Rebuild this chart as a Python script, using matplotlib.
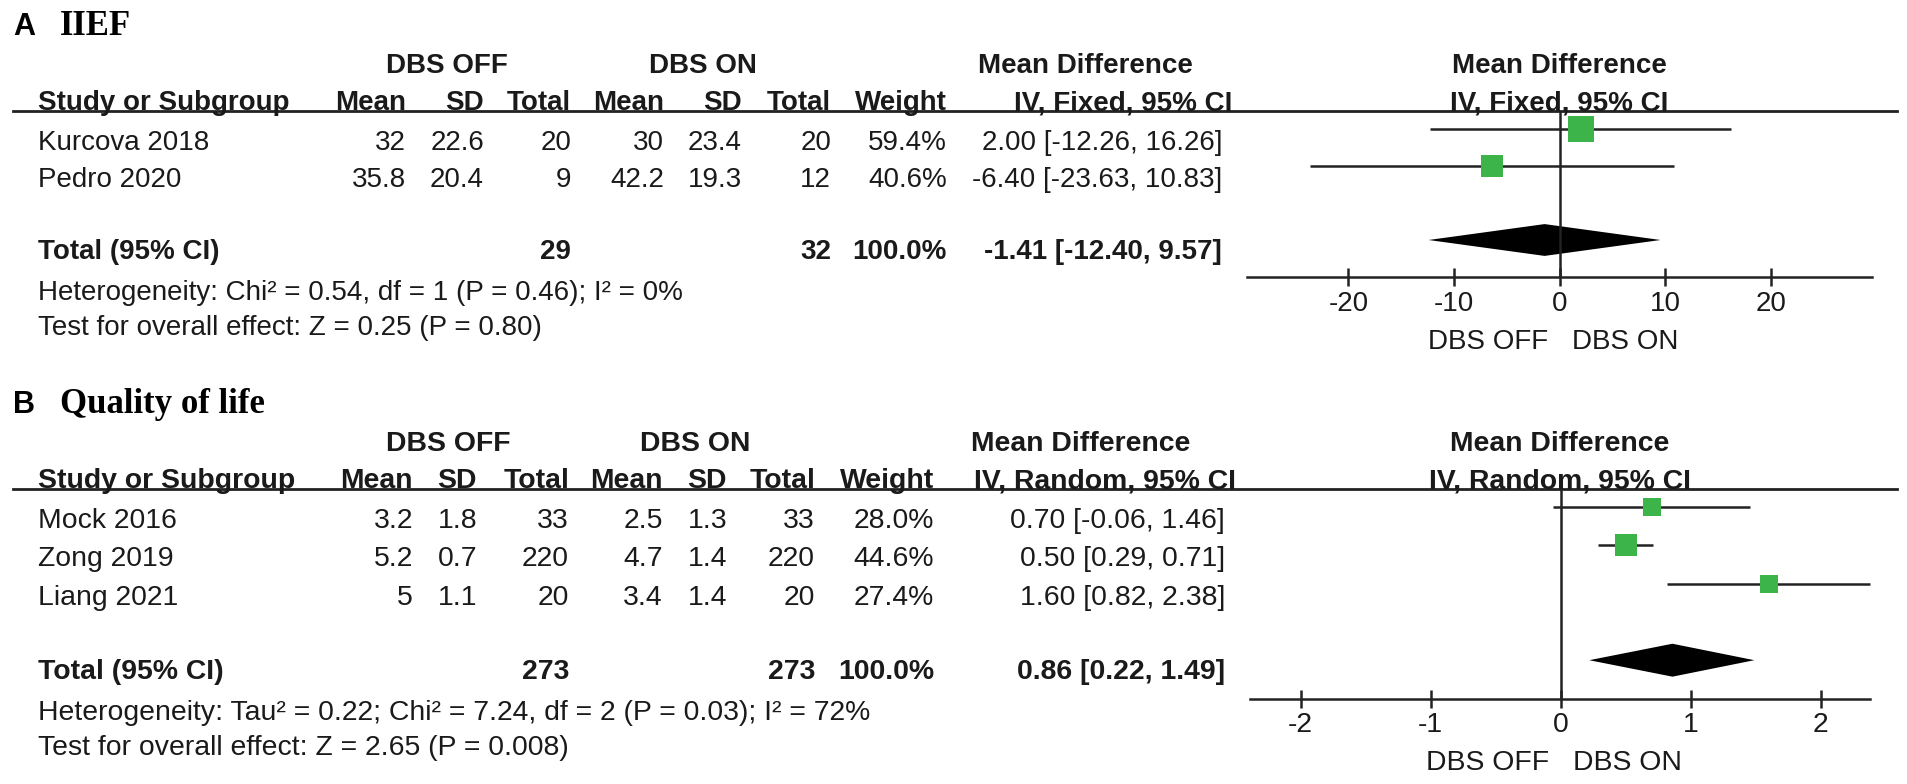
import numpy as np
import matplotlib.pyplot as plt
from matplotlib.patches import Polygon

plt.rcParams['font.family'] = ['Liberation Sans', 'DejaVu Sans']

W, H = 1907, 784
TXT = '#1a1a1a'
GREEN = '#3cb44a'

# ---- panel A: IIEF ----
a_study = ["Kurcova 2018", "Pedro 2020"]
a_off_mean = [32, 35.8]
a_off_sd = [22.6, 20.4]
a_off_n = [20, 9]
a_on_mean = [30, 42.2]
a_on_sd = [23.4, 19.3]
a_on_n = [20, 12]
a_weight = [59.4, 40.6]
a_md = [2.00, -6.40]
a_lo = [-12.26, -23.63]
a_hi = [16.26, 10.83]
a_total = (29, 32, 100.0, -1.41, -12.40, 9.57)
a_het = "Heterogeneity: Chi² = 0.54, df = 1 (P = 0.46); I² = 0%"
a_test = "Test for overall effect: Z = 0.25 (P = 0.80)"
a_ticks = [-20, -10, 0, 10, 20]

# ---- panel B: Quality of life ----
b_study = ["Mock 2016", "Zong 2019", "Liang 2021"]
b_off_mean = [3.2, 5.2, 5]
b_off_sd = [1.8, 0.7, 1.1]
b_off_n = [33, 220, 20]
b_on_mean = [2.5, 4.7, 3.4]
b_on_sd = [1.3, 1.4, 1.4]
b_on_n = [33, 220, 20]
b_weight = [28.0, 44.6, 27.4]
b_md = [0.70, 0.50, 1.60]
b_lo = [-0.06, 0.29, 0.82]
b_hi = [1.46, 0.71, 2.38]
b_total = (273, 273, 100.0, 0.86, 0.22, 1.49)
b_het = "Heterogeneity: Tau² = 0.22; Chi² = 7.24, df = 2 (P = 0.03); I² = 72%"
b_test = "Test for overall effect: Z = 2.65 (P = 0.008)"
b_ticks = [-2, -1, 0, 1, 2]

fig = plt.figure(figsize=(W / 100, H / 100), dpi=100)
tab = fig.add_axes([0, 0, 1, 1])
tab.set_xlim(0, W)
tab.set_ylim(H, 0)
tab.axis('off')


def t(x, y, s, ha='left', bold=False, size=20, **kw):
    tab.text(x, y, s, ha=ha, va='baseline', fontsize=size, color=kw.pop('color', TXT),
             fontweight='bold' if bold else 'normal', **kw)


def panel(top, letter, title, cols, grp, md_hdr, method, study, rows, weight, md, lo, hi,
          total, het, test, fx, xlim, ticks, rowgap, fs):
    # top = y of header rule
    t(13, top - 76, letter, bold=True, size=22, color='black')
    t(60, top - 76, title, bold=True, size=25, color='black', family='Liberation Serif')
    t(grp[0], top - 38, "DBS OFF", ha='center', bold=True, size=fs)
    t(grp[1], top - 38, "DBS ON", ha='center', bold=True, size=fs)
    t(md_hdr[0], top - 38, "Mean Difference", ha='center', bold=True, size=fs)
    t(fx[2], top - 38, "Mean Difference", ha='center', bold=True, size=fs)
    hy = top - 1
    t(38, hy, "Study or Subgroup", bold=True, size=fs)
    for x, s in zip(cols[:6], ["Mean", "SD", "Total", "Mean", "SD", "Total"]):
        t(x, hy, s, ha='right', bold=True, size=fs)
    t(cols[6], hy, "Weight", ha='right', bold=True, size=fs)
    t(md_hdr[1], hy, method, ha='center', bold=True, size=fs)
    t(fx[2], hy, method, ha='center', bold=True, size=fs)
    tab.plot([13, 1897], [top, top], color='#222222', lw=2.0)

    y0 = top + 39
    for i in range(len(study)):
        y = y0 + i * rowgap
        t(38, y, study[i], size=fs)
        for x, col in zip(cols[:6], rows):
            t(x, y, f"{col[i]:g}", ha='right', size=fs)
        t(cols[6], y, f"{weight[i]:.1f}%", ha='right', size=fs)
        t(cols[7], y, f"{md[i]:.2f} [{lo[i]:.2f}, {hi[i]:.2f}]", ha='right', size=fs)
    n = len(study) + 1
    yt = y0 + n * rowgap - 2
    t(38, yt, "Total (95% CI)", bold=True, size=fs)
    t(cols[2], yt, f"{total[0]}", ha='right', bold=True, size=fs)
    t(cols[5], yt, f"{total[1]}", ha='right', bold=True, size=fs)
    t(cols[6], yt, f"{total[2]:.1f}%", ha='right', bold=True, size=fs)
    t(cols[7], yt, f"{total[3]:.2f} [{total[4]:.2f}, {total[5]:.2f}]", ha='right', bold=True, size=fs)
    t(38, yt + 41, het, size=fs)
    t(38, yt + 76, test, size=fs)

    # forest plot
    y_axis = top + 18 + (n + 1) * rowgap
    ax = fig.add_axes([fx[0] / W, 1 - y_axis / H, (fx[1] - fx[0]) / W, (y_axis - top) / H])
    ax.set_facecolor('none')
    ax.set_xlim(xlim)
    ax.set_ylim(n + 1, -18 / rowgap)
    ax.axvline(0, color='#222222', lw=1.8)
    ypos = np.arange(len(study))
    ax.hlines(ypos, lo, hi, color='#222222', lw=1.8, clip_on=False)
    for i in range(len(study)):
        ax.plot(md[i], ypos[i], 's', color=GREEN, ms=0.72 * 3.3 * np.sqrt(weight[i]),
                mew=0, clip_on=False)
    h = 0.43
    ax.add_patch(Polygon([(total[4], n), (total[3], n - h), (total[5], n), (total[3], n + h)],
                         closed=True, color='black', lw=0))
    for s in ['top', 'right', 'left']:
        ax.spines[s].set_visible(False)
    ax.spines['bottom'].set_linewidth(1.8)
    ax.spines['bottom'].set_color('#222222')
    ax.set_yticks([])
    ax.set_xticks(ticks)
    ax.set_xticklabels([f"{v:g}" for v in ticks])
    ax.tick_params(axis='x', direction='inout', length=13, width=1.8, color='#222222',
                   labelsize=fs, labelcolor=TXT, pad=3.5)
    t(fx[2] - 11, y_axis + 72, "DBS OFF", ha='right', size=fs)
    t(fx[2] + 13, y_axis + 72, "DBS ON", ha='left', size=fs)


panel(111, "A", "IIEF", [406, 484, 571, 664, 742, 831, 947, 1222], (447, 703), (1085, 1123),
      "IV, Fixed, 95% CI", a_study,
      [a_off_mean, a_off_sd, a_off_n, a_on_mean, a_on_sd, a_on_n],
      a_weight, a_md, a_lo, a_hi, a_total, a_het, a_test,
      (1247, 1872, 1559), (-29.6, 29.6), a_ticks, 37, 20)

panel(489, "B", "Quality of life", [413, 477, 569, 663, 727, 815, 934, 1225], (448, 695),
      (1081, 1105), "IV, Random, 95% CI", b_study,
      [b_off_mean, b_off_sd, b_off_n, b_on_mean, b_on_sd, b_on_n],
      b_weight, b_md, b_lo, b_hi, b_total, b_het, b_test,
      (1250, 1870, 1560), (-2.39, 2.38), b_ticks, 38.3, 20.4)

fig.savefig("out.png", dpi=100)
